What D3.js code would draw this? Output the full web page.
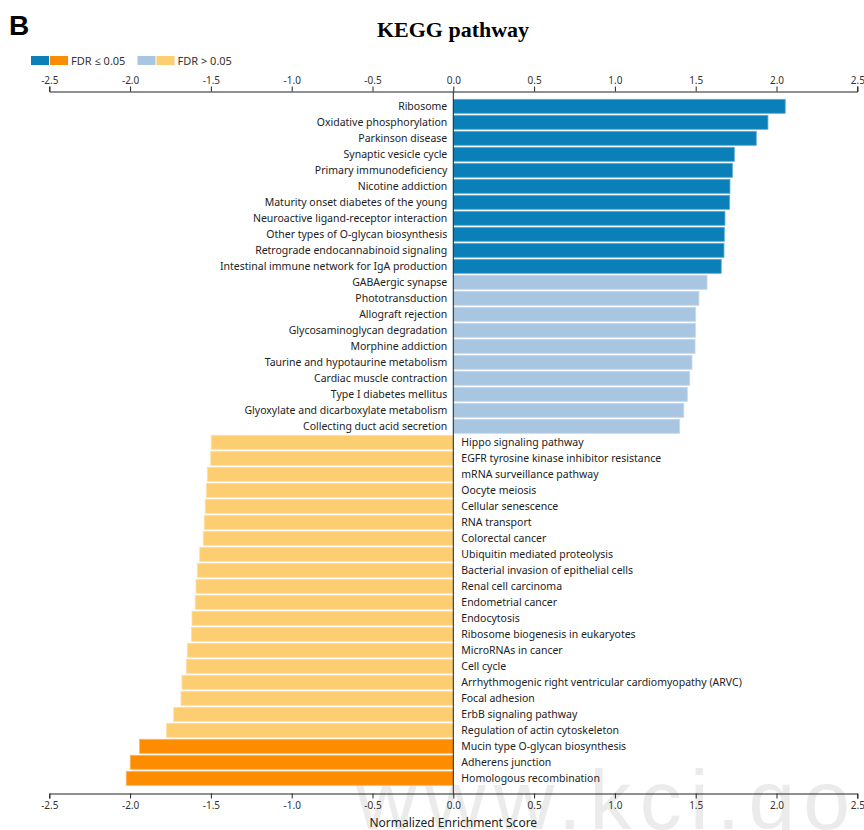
<!DOCTYPE html>
<html>
<head>
<meta charset="utf-8">
<script src="https://cdn.jsdelivr.net/npm/d3@7"></script>
<style>
  html, body { margin: 0; padding: 0; background: #fff; }
  svg { display: block; }
</style>
</head>
<body>
<svg id="chart" width="864" height="830"></svg>
<script>
// Pathways with positive enrichment (upregulated), top to bottom
const posPathways = [
  "Ribosome", "Oxidative phosphorylation", "Parkinson disease", "Synaptic vesicle cycle",
  "Primary immunodeficiency", "Nicotine addiction", "Maturity onset diabetes of the young",
  "Neuroactive ligand-receptor interaction", "Other types of O-glycan biosynthesis",
  "Retrograde endocannabinoid signaling", "Intestinal immune network for IgA production",
  "GABAergic synapse", "Phototransduction", "Allograft rejection",
  "Glycosaminoglycan degradation", "Morphine addiction", "Taurine and hypotaurine metabolism",
  "Cardiac muscle contraction", "Type I diabetes mellitus",
  "Glyoxylate and dicarboxylate metabolism", "Collecting duct acid secretion"
];
const posNES = [
  2.054, 1.947, 1.875, 1.739, 1.727, 1.712, 1.710, 1.681, 1.677, 1.675, 1.658,
  1.570, 1.520, 1.500, 1.498, 1.496, 1.477, 1.463, 1.448, 1.426, 1.401
];
const posSignificant = [
  true, true, true, true, true, true, true, true, true, true, true,
  false, false, false, false, false, false, false, false, false, false
];

// Pathways with negative enrichment (downregulated), top to bottom
const negPathways = [
  "Hippo signaling pathway", "EGFR tyrosine kinase inhibitor resistance",
  "mRNA surveillance pathway", "Oocyte meiosis", "Cellular senescence", "RNA transport",
  "Colorectal cancer", "Ubiquitin mediated proteolysis", "Bacterial invasion of epithelial cells",
  "Renal cell carcinoma", "Endometrial cancer", "Endocytosis",
  "Ribosome biogenesis in eukaryotes", "MicroRNAs in cancer", "Cell cycle",
  "Arrhythmogenic right ventricular cardiomyopathy (ARVC)", "Focal adhesion",
  "ErbB signaling pathway", "Regulation of actin cytoskeleton",
  "Mucin type O-glycan biosynthesis", "Adherens junction", "Homologous recombination"
];
const negNES = [
  -1.498, -1.501, -1.522, -1.528, -1.535, -1.541, -1.547, -1.569, -1.584, -1.592,
  -1.597, -1.617, -1.621, -1.646, -1.652, -1.679, -1.685, -1.730, -1.774,
  -1.941, -1.999, -2.024
];
const negSignificant = [
  false, false, false, false, false, false, false, false, false, false,
  false, false, false, false, false, false, false, false, false,
  true, true, true
];

const xTicks = [-2.5, -2.0, -1.5, -1.0, -0.5, 0.0, 0.5, 1.0, 1.5, 2.0, 2.5];

const colors = {
  posSig: "#0a7fb8", posNS: "#a8c5e1",
  negSig: "#fe8c00", negNS: "#fdcd72"
};

const rows = [
  ...posPathways.map((name, i) => ({
    name, nes: posNES[i],
    color: posSignificant[i] ? colors.posSig : colors.posNS
  })),
  ...negPathways.map((name, i) => ({
    name, nes: negNES[i],
    color: negSignificant[i] ? colors.negSig : colors.negNS
  }))
];

const svg = d3.select("#chart");
const labelFont = "'Noto Sans', 'Open Sans', sans-serif";

// Faint site watermark behind the plot
svg.append("text")
  .attr("x", 356).attr("y", 829)
  .attr("textLength", 612).attr("lengthAdjust", "spacing")
  .style("font-family", "'Liberation Sans', Arial, sans-serif")
  .style("font-size", "84px")
  .style("fill", "#ebebeb")
  .text("www.kci.go.kr");

const x = d3.scaleLinear().domain([-2.5, 2.5]).range([49.3, 857.3]);
const y = d3.scaleBand()
  .domain(rows.map(d => d.name))
  .range([98.3, 786.3])
  .paddingInner(0.125)
  .paddingOuter(0.0625);

const topAxisY = 91.5, bottomAxisY = 793.5;
const fmt = v => d3.format(".1f")(v).replace("\u2212", "-");

// Bars
svg.append("g").selectAll("rect")
  .data(rows)
  .join("rect")
  .attr("x", d => x(Math.min(0, d.nes)))
  .attr("width", d => Math.abs(x(d.nes) - x(0)))
  .attr("y", d => y(d.name))
  .attr("height", y.bandwidth())
  .attr("fill", d => d.color)
  .attr("stroke", d => d3.interpolateRgb(d.color, "#ffffff")(0.35))
  .attr("stroke-width", 0.8);

// Pathway labels on the opposite side of the zero line
svg.append("g").selectAll("text")
  .data(rows)
  .join("text")
  .attr("x", d => d.nes >= 0 ? x(0) - 6 : x(0) + 8)
  .attr("y", d => y(d.name) + y.bandwidth() / 2)
  .attr("dy", "0.35em")
  .attr("text-anchor", d => d.nes >= 0 ? "end" : "start")
  .style("font-family", labelFont)
  .style("font-size", "10.5px")
  .style("fill", "#222")
  .text(d => d.name);

// Zero line
svg.append("line")
  .attr("x1", x(0)).attr("x2", x(0))
  .attr("y1", topAxisY).attr("y2", bottomAxisY)
  .attr("stroke", "#222").attr("stroke-width", 1);

// Axes
const styleAxis = g => {
  g.selectAll("path, line").attr("stroke", "#222");
  g.selectAll("text")
    .style("font-family", labelFont)
    .style("font-size", "10px")
    .style("fill", "#333");
};

svg.append("g")
  .attr("transform", `translate(0,${topAxisY})`)
  .call(d3.axisTop(x).tickValues(xTicks).tickFormat(fmt).tickSize(5).tickSizeOuter(5).tickPadding(3))
  .call(styleAxis);

svg.append("g")
  .attr("transform", `translate(0,${bottomAxisY})`)
  .call(d3.axisBottom(x).tickValues(xTicks).tickFormat(fmt).tickSize(5).tickSizeOuter(5).tickPadding(3))
  .call(styleAxis);

// Axis title
svg.append("text")
  .attr("x", x(0)).attr("y", 827)
  .attr("text-anchor", "middle")
  .style("font-family", labelFont)
  .style("font-size", "12px")
  .style("fill", "#222")
  .text("Normalized Enrichment Score");

// Chart title and panel letter
svg.append("text")
  .attr("x", 453).attr("y", 37)
  .attr("text-anchor", "middle")
  .style("font-family", "'Liberation Serif', 'Times New Roman', serif")
  .style("font-weight", "bold")
  .style("font-size", "22px")
  .style("fill", "#000")
  .text("KEGG pathway");

svg.append("text")
  .attr("x", 9).attr("y", 35)
  .style("font-family", "'Liberation Sans', Arial, sans-serif")
  .style("font-weight", "bold")
  .style("font-size", "28px")
  .style("fill", "#000")
  .text("B");

// Legend
const legendItems = [
  { swatches: [colors.posSig, colors.negSig], label: "FDR \u2264 0.05", x: 31 },
  { swatches: [colors.posNS, colors.negNS], label: "FDR > 0.05", x: 137.5 }
];
const legend = svg.append("g");
legendItems.forEach(item => {
  item.swatches.forEach((c, i) => {
    legend.append("rect")
      .attr("x", item.x + i * 19).attr("y", 56)
      .attr("width", 18).attr("height", 9)
      .attr("fill", c);
  });
  legend.append("text")
    .attr("x", item.x + 40).attr("y", 64.5)
    .style("font-family", labelFont)
    .style("font-size", "11px")
    .style("fill", "#333")
    .text(item.label);
});
</script>
</body>
</html>
